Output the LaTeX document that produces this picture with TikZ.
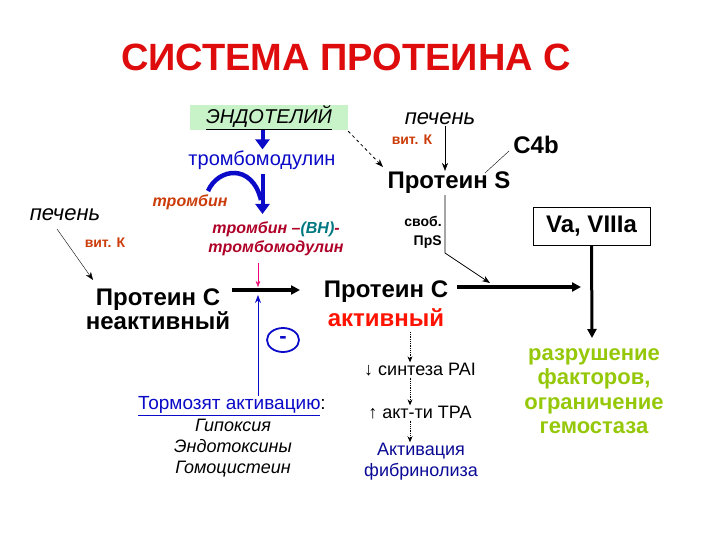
\documentclass[tikz,border=0pt]{standalone}
\usepackage{fontspec}
\setmainfont{Liberation Sans}
\usetikzlibrary{arrows.meta,shapes.geometric,positioning}
\definecolor{titlered}{RGB}{222,12,12}
\definecolor{vitk}{RGB}{204,60,10}
\definecolor{cplx}{RGB}{175,0,40}
\definecolor{bhteal}{RGB}{0,120,130}
\definecolor{tmblue}{RGB}{10,10,200}
\definecolor{darkblue}{RGB}{10,10,150}
\definecolor{endogreen}{RGB}{200,242,200}
\definecolor{lime}{RGB}{150,200,10}
\tikzset{
  heading/.style ={inner sep=0pt,font=\fontsize{38}{40}\selectfont\bfseries,text=titlered},
  liver/.style   ={inner sep=1pt,font=\fontsize{22}{24}\selectfont\itshape},
  vitamin/.style ={inner sep=1pt,font=\fontsize{14}{16}\selectfont\bfseries,text=vitk},
  protein/.style ={inner sep=1pt,align=center,font=\fontsize{24}{24}\selectfont\bfseries},
  plain/.style   ={inner sep=1pt,align=center,font=\fontsize{18}{21}\selectfont},
  small/.style   ={inner sep=1pt,align=right,font=\fontsize{14}{19}\selectfont\bfseries},
  arr/.style     ={-{Stealth[length=8pt,width=6pt]},thin},
  thickarr/.style={-{Triangle[length=9pt,width=9pt]},line width=3.5pt},
  bluearr/.style ={-{Triangle[length=10pt,width=14pt]},line width=4pt,tmblue},
  dotarr/.style  ={-{Stealth[length=6pt,width=5pt]},densely dotted,thick}
}
\begin{document}
\begin{tikzpicture}[x=1pt,y=-1pt]
  \useasboundingbox[fill=white] (0,0) rectangle (720,540);
  % Nodes
  \node (title)   [heading] at (346,57)  {СИСТЕМА ПРОТЕИНА С};
  \node (endo)    [fill=endogreen,minimum width=158pt,minimum height=25pt,inner sep=0pt,
                   font=\fontsize{20}{20}\selectfont\itshape] at (269,117.5) {\underline{ЭНДОТЕЛИЙ}};
  \node (tm)      [plain,font=\fontsize{20}{22}\selectfont,text=tmblue] at (262,160) {тромбомодулин};
  \node (thr)     [inner sep=1pt,font=\fontsize{16}{18}\selectfont\bfseries\itshape,text=vitk] at (190,202) {тромбин};
  \node (complex) [inner sep=1pt,align=center,font=\fontsize{16}{19}\selectfont\bfseries\itshape,text=cplx]
                   at (276,239) {тромбин –{\color{bhteal}(ВН)}-\\тромбомодулин};
  \node (liverL)  [liver] at (65,215) {печень};
  \node (vitkL)   [vitamin] at (105,243) {вит. К};
  \node (pcin)    [protein] at (158,309) {Протеин С\\неактивный};
  \node (pcact)   [protein,font=\fontsize{24}{29}\selectfont\bfseries] at (386,304) {Протеин С\\\textcolor{red!85!orange}{активный}};
  \node (minus)   [ellipse,draw=tmblue,line width=1.8pt,minimum width=32pt,minimum height=24pt,inner sep=0pt,
                   text=tmblue,font=\fontsize{22}{22}\selectfont\bfseries] at (283,340) {-};
  \node (inhib)   [plain,font=\fontsize{19}{21}\selectfont] at (232,406) {{\color{tmblue}\underline{Тормозят активацию}}:};
  \node (causes)  [plain,font=\fontsize{18}{21}\selectfont\itshape] at (233,448) {Гипоксия\\Эндотоксины\\Гомоцистеин};
  \node (pai)     [plain] at (420,370) {↓ синтеза PAI};
  \node (tpa)     [plain] at (420,413) {↑ акт-ти TPA};
  \node (fibr)    [plain,text=darkblue] at (421,462) {Активация\\фибринолиза};
  \node (liverR)  [liver] at (440,119) {печень};
  \node (vitkR)   [vitamin] at (412,140) {вит. К};
  \node (c4b)     [protein] at (536,145) {C4b};
  \node (ps)      [protein] at (449,183) {Протеин S};
  \node (freeps)  [small] at (423,232) {своб.\\ПрS};
  \node (factors) [draw,thin,minimum width=117pt,minimum height=38pt,inner sep=0pt,
                   font=\fontsize{24}{24}\selectfont\bfseries] at (591.5,226) {Va, VIIIa};
  \node (destr)   [inner sep=1pt,align=center,text=lime,font=\fontsize{22}{24.5}\selectfont\bfseries]
                   at (594,391) {разрушение\\факторов,\\ограничение\\гемостаза};
  \coordinate (tmtop)  at (262.5,174);
  \coordinate (tip)    at (262.5,214);
  \coordinate (pinkin) at (258,263);
  \coordinate (pinkat) at (258,287);
  \coordinate (bluein) at (258,396);
  \coordinate (blueat) at (258,295);
  \coordinate (actin)  at (232,290);
  \coordinate (actat)  at (300,290);
  \coordinate (c4bin)  at (485,173);
  \coordinate (c4bat)  at (509,151);
  \coordinate (bend)   at (445,253);
  \coordinate (psat)   at (490,283);
  \coordinate (degin)  at (457,287);
  \coordinate (degat)  at (581,287);

  % Arrows
  \draw [bluearr] (endo.south -| tmtop) -- (tm.north -| tmtop);
  \draw [bluearr] (tmtop) -- (tip);
  \draw [line width=4.5pt,tmblue] (208,191) .. controls (218,168) and (252,163) .. (261,200);
  \draw [arr] (57,229) -- (93,280);
  \draw [thickarr] (actin) -- (actat);
  \draw [-{Stealth[length=6pt]},thin,magenta!80!red] (pinkin) -- (pinkat);
  \draw [-{Stealth[length=8pt,width=6pt]},thick,tmblue] (bluein) -- (blueat);
  \draw [dotarr] (410,332) -- (pai.north -| 410,0);
  \draw [dotarr] (pai.south -| 410,0) -- (tpa.north -| 410,0);
  \draw [dotarr] (tpa.south -| 410,0) -- (fibr.north -| 410,0);
  \draw [arr] (liverR.south -| bend) -- (ps.north -| bend);
  \draw [thin] (c4bin) -- (c4bat);
  \draw [-{Stealth[length=8pt,width=6pt]},thick,dashed] (endo.south east) ++(0,1) -- (383,167);
  \draw [-{Stealth[length=8pt,width=6pt]},thick] (ps.south -| bend) -- (bend) -- (psat);
  \draw [thickarr] (degin) -- (degat);
  \draw [thickarr,line width=3pt] (factors.south) -- (592,338);
\end{tikzpicture}
\end{document}
